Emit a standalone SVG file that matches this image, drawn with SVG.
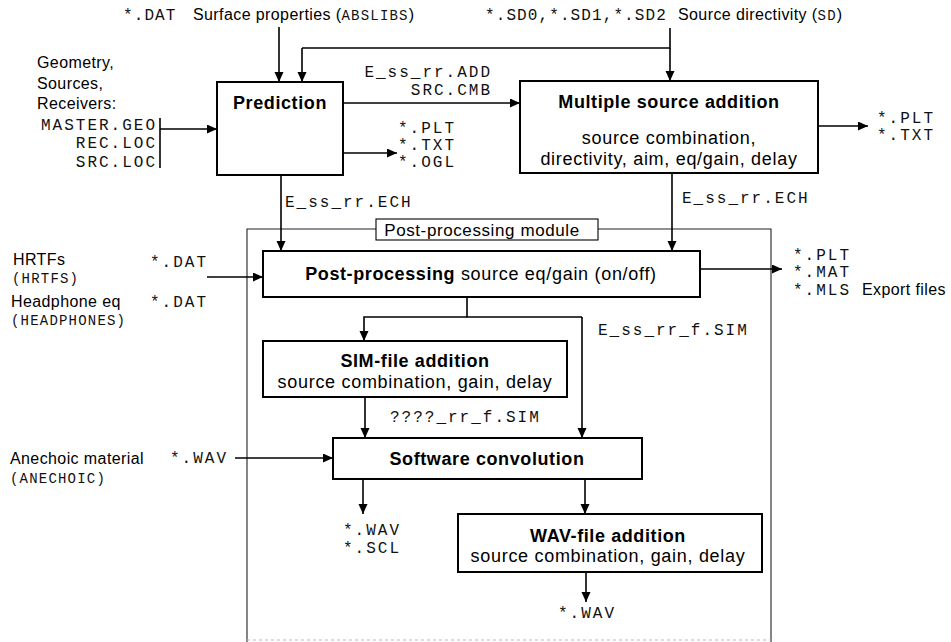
<svg xmlns="http://www.w3.org/2000/svg" width="951" height="642" viewBox="0 0 951 642">
<defs>
<marker id="ah" markerUnits="userSpaceOnUse" markerWidth="11" markerHeight="10" refX="10" refY="4.5" orient="auto">
<path d="M0,0 L10,4.5 L0,9 z" fill="#000"/>
</marker>
<style>
.box{fill:#fff;stroke:#000;stroke-width:2}
.ln{fill:none;stroke:#000;stroke-width:1.6}
.ar{fill:none;stroke:#000;stroke-width:1.6;marker-end:url(#ah)}
.frame{fill:none;stroke:#222;stroke-width:1.1}
.sans{font-family:"Liberation Sans",Arial,sans-serif;font-size:16px;letter-spacing:0.4px;fill:#000}
.lbl{font-family:"Liberation Sans",Arial,sans-serif;font-size:17px;letter-spacing:0.6px;fill:#000}
.bt{font-family:"Liberation Sans",Arial,sans-serif;font-size:18px;font-weight:bold;letter-spacing:0.6px;fill:#000}
.bs{font-family:"Liberation Sans",Arial,sans-serif;font-size:18px;letter-spacing:0.7px;fill:#000}
.mono{font-family:"Liberation Mono","Courier New",monospace;font-size:16px;letter-spacing:2px;fill:#111}
.mt{font-family:"Liberation Mono","Courier New",monospace;font-size:16px;letter-spacing:1.1px;fill:#111}
.ms{font-family:"Liberation Mono","Courier New",monospace;font-size:14px;letter-spacing:1.2px;fill:#111}
</style>
</defs>
<rect width="951" height="642" fill="#fff"/>

<g id="frame">
<path class="frame" d="M376,229 H247 V642 M598,229 H771 V642"/>
<path d="M247,640 H771" fill="none" stroke="#bbb" stroke-width="1" stroke-dasharray="3,3"/>
</g>

<g id="connectors">
<path class="ar" d="M279,27 V82"/>
<path class="ln" d="M670,28 V48 H302"/>
<path class="ar" d="M302,48 V82"/>
<path class="ar" d="M670,48 V81"/>
<path class="ln" d="M160,118 V168"/>
<path class="ar" d="M160,129 H217"/>
<path class="ar" d="M343,103 H520"/>
<path class="ar" d="M343,153 H397"/>
<path class="ar" d="M818,126 H868"/>
<path class="ar" d="M281,175 V251"/>
<path class="ar" d="M672,173 V251"/>
<path class="ar" d="M207,277 H263"/>
<path class="ar" d="M700,269 H782"/>
<path class="ln" d="M467,297 V317 H582"/>
<path class="ar" d="M467,317 H364 V341"/>
<path class="ar" d="M582,317 V438"/>
<path class="ar" d="M365,397 V438"/>
<path class="ar" d="M235,458 H333"/>
<path class="ar" d="M363,479 V514"/>
<path class="ar" d="M585,479 V514"/>
<path class="ar" d="M586,572 V602"/>
</g>

<g id="prediction">
<rect class="box" x="217" y="82" width="126" height="93"/>
<text class="bt" x="280" y="109" text-anchor="middle">Prediction</text>
</g>

<g id="multiple-source-addition">
<rect class="box" x="520" y="81" width="298" height="92"/>
<text class="bt" x="669" y="108" text-anchor="middle">Multiple source addition</text>
<text class="bs" x="669" y="144" text-anchor="middle">source combination,</text>
<text class="bs" x="669" y="165" text-anchor="middle">directivity, aim, eq/gain, delay</text>
</g>

<g id="post-processing-module-label">
<rect x="376" y="219" width="222" height="21" fill="#fff" stroke="#000" stroke-width="1.1"/>
<text class="lbl" x="482" y="236" text-anchor="middle">Post-processing module</text>
</g>

<g id="post-processing">
<rect class="box" x="263" y="251" width="437" height="46"/>
<text x="481" y="280" text-anchor="middle"><tspan class="bt">Post-processing</tspan><tspan class="bs"> source eq/gain (on/off)</tspan></text>
</g>

<g id="sim-file-addition">
<rect class="box" x="263" y="341" width="304" height="56"/>
<text class="bt" x="415" y="367" text-anchor="middle">SIM-file addition</text>
<text class="bs" x="415" y="388" text-anchor="middle">source combination, gain, delay</text>
</g>

<g id="software-convolution">
<rect class="box" x="333" y="438" width="309" height="41"/>
<text class="bt" x="487" y="465" text-anchor="middle">Software convolution</text>
</g>

<g id="wav-file-addition">
<rect class="box" x="458" y="514" width="304" height="58"/>
<text class="bt" x="608" y="542" text-anchor="middle">WAV-file addition</text>
<text class="bs" x="608" y="562" text-anchor="middle">source combination, gain, delay</text>
</g>

<g id="labels">
<text x="123" y="20"><tspan class="mt">*.DAT</tspan><tspan class="sans" x="193">Surface properties (</tspan><tspan class="ms">ABSLIBS</tspan><tspan class="sans">)</tspan></text>
<text x="485" y="20"><tspan class="mt">*.SD0,*.SD1,*.SD2</tspan><tspan class="sans" x="678">Source directivity (</tspan><tspan class="ms">SD</tspan><tspan class="sans">)</tspan></text>

<text class="sans" x="37" y="68">Geometry,</text>
<text class="sans" x="37" y="89">Sources,</text>
<text class="sans" x="37" y="109">Receivers:</text>
<text class="mono" x="157" y="130" text-anchor="end">MASTER.GEO</text>
<text class="mono" x="157" y="148" text-anchor="end">REC.LOC</text>
<text class="mono" x="157" y="167" text-anchor="end">SRC.LOC</text>

<text class="mono" x="492" y="77" text-anchor="end">E_ss_rr.ADD</text>
<text class="mono" x="492" y="95" text-anchor="end">SRC.CMB</text>

<text class="mono" x="398" y="133">*.PLT</text>
<text class="mono" x="398" y="150">*.TXT</text>
<text class="mono" x="398" y="167">*.OGL</text>

<text class="mono" x="877" y="123">*.PLT</text>
<text class="mono" x="877" y="140">*.TXT</text>

<text class="mono" x="285" y="207">E_ss_rr.ECH</text>
<text class="mono" x="682" y="203">E_ss_rr.ECH</text>

<text class="sans" x="13" y="265">HRTFs</text>
<text class="ms" x="12" y="283">(HRTFS)</text>
<text class="sans" x="11" y="307">Headphone eq</text>
<text class="ms" x="11" y="325">(HEADPHONES)</text>
<text class="mono" x="150" y="267">*.DAT</text>
<text class="mono" x="150" y="307">*.DAT</text>

<text class="mono" x="793" y="260">*.PLT</text>
<text class="mono" x="793" y="277">*.MAT</text>
<text class="mono" x="793" y="295">*.MLS</text>
<text class="sans" x="862" y="295">Export files</text>

<text class="mono" x="598" y="335">E_ss_rr_f.SIM</text>
<text class="mono" x="390" y="422">????_rr_f.SIM</text>

<text class="sans" x="10" y="464">Anechoic material</text>
<text class="ms" x="10" y="483">(ANECHOIC)</text>
<text class="mono" x="170" y="463">*.WAV</text>

<text class="mono" x="343" y="535">*.WAV</text>
<text class="mono" x="343" y="553">*.SCL</text>
<text class="mono" x="587" y="618" text-anchor="middle">*.WAV</text>
</g>
</svg>
